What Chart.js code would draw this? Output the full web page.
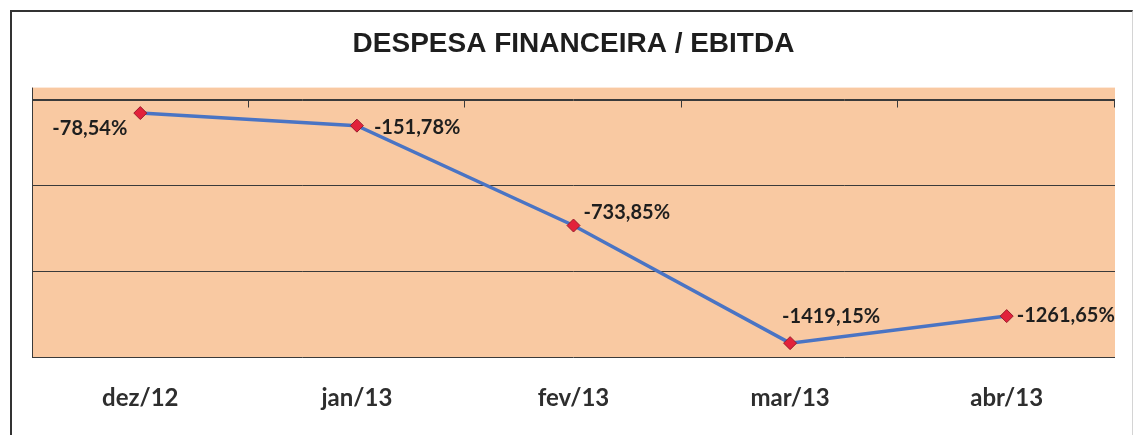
<!DOCTYPE html>
<html>
<head>
<meta charset="utf-8">
<script src="https://cdn.jsdelivr.net/npm/chart.js@4.4.1/dist/chart.umd.min.js"></script>
<style>
    html, body { margin: 0; padding: 0; background: #fff; overflow: hidden; }
    #wrap { position: relative; width: 1135px; height: 435px; }
    #frame {
        position: absolute; left: 10px; top: 10px; width: 1120px; height: 440px;
        border-left: 2px solid #333; border-top: 2px solid #333; border-right: 1px solid #d4d4d4;
    }
    canvas { position: absolute; left: 0; top: 0; }
</style>
</head>
<body>
<div id="wrap">
    <div id="frame"></div>
    <canvas id="ebitdaChart" width="1135" height="435"></canvas>
</div>
<script>
'use strict'

const categories = ['dez/12', 'jan/13', 'fev/13', 'mar/13', 'abr/13'];
const despesaEbitda = [-78.54, -151.78, -733.85, -1419.15, -1261.65];
const yMin = -1500;
const yMax = 0;
const yStep = 500;

// where each value label sits next to its point (style only)
const labelPlacement = [
    { align: 'right', dx: -13, dy: 15 },
    { align: 'left', dx: 17, dy: 2 },
    { align: 'left', dx: 10, dy: -13 },
    { align: 'left', dx: -8, dy: -27 },
    { align: 'left', dx: 10, dy: -1 }
];

function fmtPct(v) {
    return v.toFixed(2).replace('.', ',') + '%';
}

const plotBackground = {
    id: 'plotBackground',
    beforeDraw(chart) {
        const { ctx, chartArea } = chart;
        ctx.save();
        ctx.fillStyle = '#f9c9a2';
        ctx.fillRect(chartArea.left, chartArea.top - 12, chartArea.right - chartArea.left, chartArea.bottom - chartArea.top + 12);
        ctx.strokeStyle = '#3a3a3a';
        ctx.lineWidth = 1;
        ctx.beginPath();
        ctx.moveTo(chartArea.left + 0.5, chartArea.top - 12);
        ctx.lineTo(chartArea.left + 0.5, chartArea.bottom);
        ctx.stroke();
        ctx.restore();
    },
    beforeDatasetsDraw(chart) {
        // category axis crosses at 0, with tick marks between categories
        const { ctx } = chart;
        const x = chart.scales.x;
        const y0 = Math.round(chart.scales.y.getPixelForValue(0)) + 0.5;
        const half = (x.getPixelForValue(1) - x.getPixelForValue(0)) / 2;
        ctx.save();
        ctx.strokeStyle = '#3a3a3a';
        ctx.lineWidth = 1;
        ctx.beginPath();
        ctx.moveTo(x.left, y0);
        ctx.lineTo(x.right, y0);
        for (let i = 0; i < categories.length; i++) {
            const bx = Math.round(x.getPixelForValue(i) + half) - 0.5;
            ctx.moveTo(bx, y0);
            ctx.lineTo(bx, y0 + 7);
        }
        ctx.stroke();
        ctx.restore();
    }
};

const valueLabels = {
    id: 'valueLabels',
    afterDatasetsDraw(chart) {
        const { ctx } = chart;
        const meta = chart.getDatasetMeta(0);
        ctx.save();
        ctx.font = 'bold 20px Lato';
        ctx.fillStyle = '#1e1e1e';
        ctx.textBaseline = 'middle';
        meta.data.forEach((pt, i) => {
            const p = labelPlacement[i];
            ctx.textAlign = p.align;
            ctx.fillText(fmtPct(despesaEbitda[i]), pt.x + p.dx, pt.y + p.dy);
        });
        ctx.restore();
    }
};

const ctx = document.getElementById('ebitdaChart').getContext('2d');

new Chart(ctx, {
    type: 'line',
    data: {
        labels: categories,
        datasets: [{
            label: 'Despesa Financeira / EBITDA',
            data: despesaEbitda,
            borderColor: '#4a74c4',
            borderWidth: 3.5,
            tension: 0,
            fill: false,
            pointStyle: 'rectRot',
            pointRadius: 6.5,
            pointBackgroundColor: '#e2213b',
            pointBorderColor: '#9a1c2c',
            pointBorderWidth: 1
        }]
    },
    options: {
        responsive: false,
        animation: false,
        layout: {
            padding: { left: 32, right: 20, top: 0, bottom: 0 }
        },
        plugins: {
            legend: { display: false },
            tooltip: { enabled: false },
            title: {
                display: true,
                text: 'DESPESA FINANCEIRA / EBITDA',
                color: '#1e1e1e',
                font: { family: 'Liberation Sans', size: 28, weight: 'bold', lineHeight: 1.2 },
                padding: { top: 27, bottom: 39 }
            }
        },
        scales: {
            x: {
                offset: true,
                grid: { display: false, drawTicks: false },
                border: { display: false },
                ticks: {
                    color: '#2e2e2e',
                    font: { family: 'Lato', size: 24, weight: 'bold' },
                    padding: 27,
                    maxRotation: 0
                },
                afterFit(scale) { scale.height = 78; }
            },
            y: {
                min: yMin,
                max: yMax,
                ticks: { display: false, stepSize: yStep },
                grid: { color: '#3a3a3a', lineWidth: 1, drawTicks: false },
                border: { display: false },
                afterFit(scale) { scale.width = 0; }
            }
        }
    },
    plugins: [plotBackground, valueLabels]
});
</script>
</body>
</html>
